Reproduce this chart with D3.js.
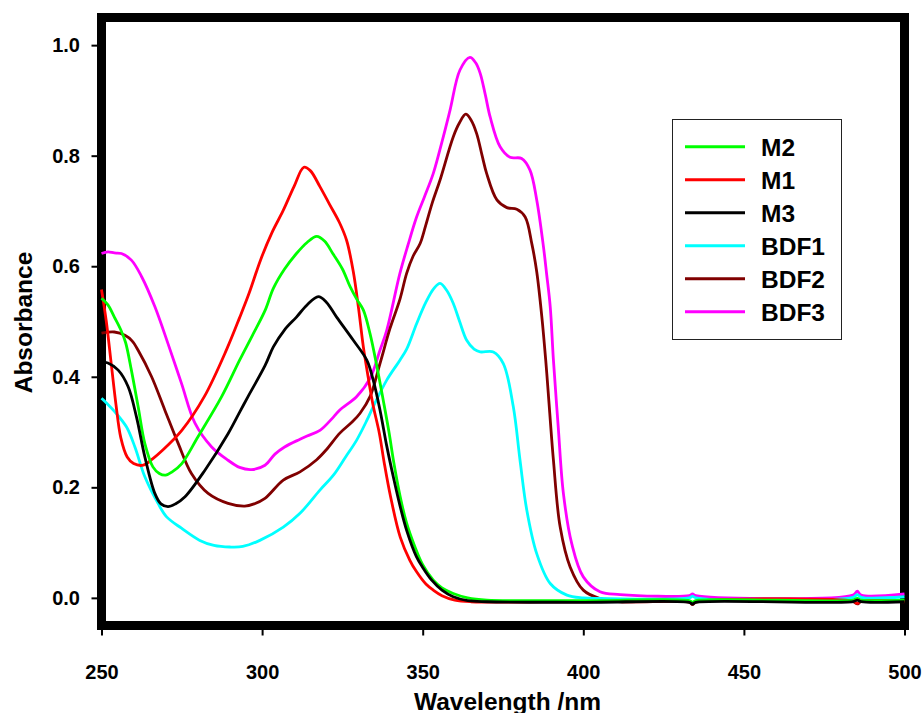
<!DOCTYPE html>
<html>
<head>
<meta charset="utf-8">
<script src="https://cdn.jsdelivr.net/npm/d3@7"></script>
<style>
	body { margin: 0; background: #fff; }
	text { font-family: Arial, "Liberation Sans", sans-serif; font-weight: bold; }
</style>
</head>
<body>
<div id="chart-box"></div>
<script>
// Spectra: [wavelength nm, absorbance]
const m1 = [[250,0.558],[251.5,0.50],[253,0.425],[254.5,0.35],[256,0.29],[258,0.255],[260,0.243],[263,0.240],[266,0.252],[269,0.267],[275,0.303],[282,0.364],[289,0.450],[293,0.507],[296,0.552],[299.5,0.611],[303,0.660],[306.5,0.700],[310,0.745],[313,0.779],[315,0.773],[318,0.744],[321,0.712],[324,0.680],[326.3,0.647],[328.4,0.590],[330,0.525],[331.5,0.455],[333,0.400],[334.5,0.350],[336.5,0.298],[338,0.245],[340,0.183],[343,0.110],[346,0.068],[348,0.048],[351,0.025],[353.3,0.014],[356,0.004],[360,-0.004],[365,-0.007],[400,-0.007],[433,-0.007],[434,-0.010],[435,-0.007],[484,-0.006],[485.3,-0.010],[486.5,-0.006],[500,-0.006]];
const m2 = [[250,0.542],[252,0.530],[254,0.508],[256,0.485],[257.5,0.462],[259.3,0.412],[261.4,0.346],[263.5,0.279],[266,0.237],[268,0.225],[270,0.222],[272,0.228],[275,0.243],[280,0.291],[287.4,0.364],[293,0.430],[297,0.475],[301,0.521],[303.5,0.560],[307,0.595],[310.7,0.623],[314,0.643],[317,0.654],[319.5,0.645],[322,0.623],[325,0.595],[327.4,0.563],[329.5,0.540],[331.5,0.521],[333.6,0.478],[335.7,0.420],[337.7,0.358],[339.5,0.300],[341,0.245],[343,0.183],[345,0.135],[347.6,0.092],[350,0.060],[353.3,0.032],[356,0.018],[359.5,0.008],[364,0.000],[370,-0.004],[400,-0.005],[433,-0.005],[434,-0.008],[435,-0.005],[484,-0.004],[485.3,-0.001],[486.5,-0.004],[500,-0.004]];
const m3 = [[250,0.427],[252,0.425],[255.2,0.412],[258.3,0.382],[260.9,0.327],[263.5,0.255],[266.6,0.189],[268.5,0.170],[270.7,0.165],[273,0.170],[276,0.183],[282.2,0.231],[289.4,0.297],[293.1,0.337],[295.7,0.365],[300.9,0.420],[303.5,0.454],[307,0.485],[310.7,0.508],[314,0.530],[317.5,0.545],[320,0.535],[323.2,0.508],[328.4,0.466],[332.6,0.430],[334.6,0.394],[336.7,0.340],[338.8,0.275],[341,0.215],[343,0.165],[345,0.122],[348,0.075],[350,0.055],[352.8,0.032],[356,0.014],[359.5,0.002],[364,-0.005],[370,-0.007],[400,-0.008],[433,-0.008],[434,-0.011],[435,-0.008],[484,-0.007],[485.3,-0.004],[486.5,-0.007],[500,-0.007]];
const bdf1 = [[250,0.361],[252,0.350],[254.1,0.337],[257.8,0.309],[260.4,0.273],[263.5,0.219],[267.6,0.171],[270.2,0.147],[274.9,0.126],[280.6,0.104],[285,0.095],[290,0.092],[294,0.093],[299.3,0.104],[306.6,0.128],[311.8,0.153],[318,0.195],[322.2,0.222],[326,0.255],[329.4,0.285],[332.6,0.321],[334.6,0.346],[338.8,0.394],[342.9,0.430],[345,0.450],[348.1,0.496],[351,0.535],[353.5,0.560],[355.4,0.569],[357.5,0.556],[359.5,0.533],[361.5,0.500],[363.7,0.466],[366,0.450],[367.9,0.445],[372,0.445],[375.1,0.424],[378.2,0.346],[380.3,0.249],[382.4,0.159],[385.5,0.080],[389.7,0.026],[394.9,0.005],[400,0.000],[405,-0.001],[433,0.000],[434,0.003],[435,0.000],[484,0.001],[485.3,0.006],[486.5,0.001],[500,0.002]];
const bdf2 = [[250,0.479],[254,0.481],[257.3,0.475],[259.5,0.465],[261.4,0.448],[265.6,0.400],[269.7,0.340],[273.9,0.279],[278,0.225],[283.2,0.189],[289.4,0.171],[294.6,0.166],[297.5,0.170],[300.9,0.180],[306.6,0.213],[311.8,0.228],[317,0.250],[320,0.268],[324.2,0.298],[328,0.318],[330.5,0.334],[333.6,0.364],[336.7,0.424],[339.8,0.487],[342.9,0.540],[345,0.587],[347,0.618],[349.2,0.641],[350.5,0.665],[353,0.715],[355.4,0.756],[359.5,0.834],[361.5,0.860],[363.4,0.875],[365,0.865],[366.8,0.840],[368.5,0.800],[369.9,0.768],[373.1,0.720],[376.2,0.706],[379.3,0.703],[381.9,0.689],[384,0.640],[385.5,0.590],[387.1,0.508],[388.3,0.430],[389.1,0.370],[390.7,0.249],[392.8,0.128],[395.9,0.056],[400,0.014],[405,-0.001],[411.5,-0.007],[433,-0.008],[434,-0.012],[435,-0.008],[484,-0.007],[485.3,-0.011],[486.5,-0.007],[500,-0.007]];
const bdf3 = [[250,0.623],[252,0.626],[254,0.624],[256.2,0.623],[259.3,0.611],[262.5,0.581],[266.6,0.527],[270.7,0.460],[274.9,0.388],[279.1,0.316],[284.3,0.273],[289.4,0.249],[293,0.236],[296.7,0.232],[300.9,0.240],[304,0.260],[307,0.273],[311.8,0.287],[314,0.293],[318,0.303],[322.2,0.327],[324.2,0.340],[329.4,0.364],[333.6,0.397],[336.7,0.448],[338.8,0.484],[342.9,0.587],[345.5,0.640],[348.1,0.689],[350.5,0.725],[353.3,0.768],[356,0.825],[358.5,0.882],[361.6,0.955],[364.7,0.978],[366.5,0.968],[367.9,0.949],[369.5,0.910],[371,0.870],[374.1,0.816],[377.2,0.797],[380.8,0.795],[383.4,0.774],[385.5,0.720],[387.6,0.635],[388.6,0.585],[389.7,0.527],[390.7,0.430],[392.2,0.309],[393.8,0.189],[396.4,0.098],[400,0.038],[405.2,0.011],[411.5,0.006],[433,0.004],[434,0.007],[435,0.004],[484,0.005],[485.3,0.012],[486.5,0.005],[500,0.007]];

// Legend order and colours
const seriesNames = ["M2", "M1", "M3", "BDF1", "BDF2", "BDF3"];
const seriesData = [m2, m1, m3, bdf1, bdf2, bdf3];
const seriesColors = ["#00ff00", "#ff0000", "#000000", "#00ffff", "#800000", "#ff00ff"];
// drawing order (first drawn sits underneath)
const drawOrder = ["BDF3", "BDF2", "BDF1", "M1", "M2", "M3"];

const xTicks = [250, 300, 350, 400, 450, 500];
const yTicks = [0.0, 0.2, 0.4, 0.6, 0.8, 1.0];

const w = 923;
const h = 713;
const plotL = 101.5, plotR = 904.5, plotT = 17.5, plotB = 625.5;

const svg = d3.select("#chart-box")
	.append("svg")
	.attr("width", w)
	.attr("height", h);

//Scales
const xScale = d3.scaleLinear()
	.domain([250, 500])
	.range([plotL, plotR]);
const yScale = d3.scaleLinear()
	.domain([-0.05, 1.05])
	.range([plotB, plotT]);

// Y axis
const yAxis = d3.axisLeft(yScale)
	.tickValues(yTicks)
	.tickSize(10)
	.tickPadding(11.5)
	.tickFormat(d3.format(".1f"));
const gy = svg.append("g")
	.attr("transform", "translate(" + plotL + ",0)")
	.call(yAxis);
gy.select(".domain").remove();
gy.selectAll("line").attr("stroke-width", 2);
gy.selectAll("text").style("font-size", "20px").attr("fill", "#000");

// X axis
const xAxis = d3.axisBottom(xScale)
	.tickValues(xTicks)
	.tickSize(10)
	.tickPadding(29.5)
	.tickFormat(d => d);
const gx = svg.append("g")
	.attr("transform", "translate(0," + plotB + ")")
	.call(xAxis);
gx.select(".domain").remove();
gx.selectAll("line").attr("stroke-width", 2);
gx.selectAll("text").style("font-size", "20px").attr("fill", "#000");

// thick frame
svg.append("rect")
	.attr("x", plotL)
	.attr("y", plotT)
	.attr("width", plotR - plotL)
	.attr("height", plotB - plotT)
	.attr("fill", "none")
	.attr("stroke", "#000")
	.attr("stroke-width", 9);

// Spectra
const line = d3.line()
	.x(d => xScale(d[0]))
	.y(d => yScale(d[1]))
	.curve(d3.curveCatmullRom.alpha(0.5));

svg.append("g")
	.selectAll("path")
	.data(drawOrder)
	.enter()
	.append("path")
	.attr("d", name => line(seriesData[seriesNames.indexOf(name)]))
	.attr("fill", "none")
	.attr("stroke", name => seriesColors[seriesNames.indexOf(name)])
	.attr("stroke-width", 2.8)
	.attr("stroke-linejoin", "round");

// Axis titles
svg.append("text")
	.attr("x", 507.5)
	.attr("y", 710)
	.attr("text-anchor", "middle")
	.style("font-size", "24.5px")
	.text("Wavelength /nm");

svg.append("text")
	.attr("transform", "translate(31.5,322.5) rotate(-90)")
	.attr("text-anchor", "middle")
	.style("font-size", "24.5px")
	.text("Absorbance");

//Legend
const legend = svg.append("g");
legend.append("rect")
	.attr("x", 672.5)
	.attr("y", 119.5)
	.attr("width", 169)
	.attr("height", 220)
	.attr("fill", "#fff")
	.attr("stroke", "#222")
	.attr("stroke-width", 1);

const rows = legend.selectAll(".legend")
	.data(seriesNames)
	.enter().append("g")
	.attr("class", "legend")
	.attr("transform", (d, i) => "translate(0," + (146.7 + i * 33) + ")");

rows.append("line")
	.attr("x1", 685)
	.attr("x2", 745)
	.attr("stroke", (d, i) => seriesColors[i])
	.attr("stroke-width", 3);

rows.append("text")
	.attr("x", 761)
	.attr("y", 9)
	.style("font-size", "24.5px")
	.text(d => d);
</script>
</body>
</html>
